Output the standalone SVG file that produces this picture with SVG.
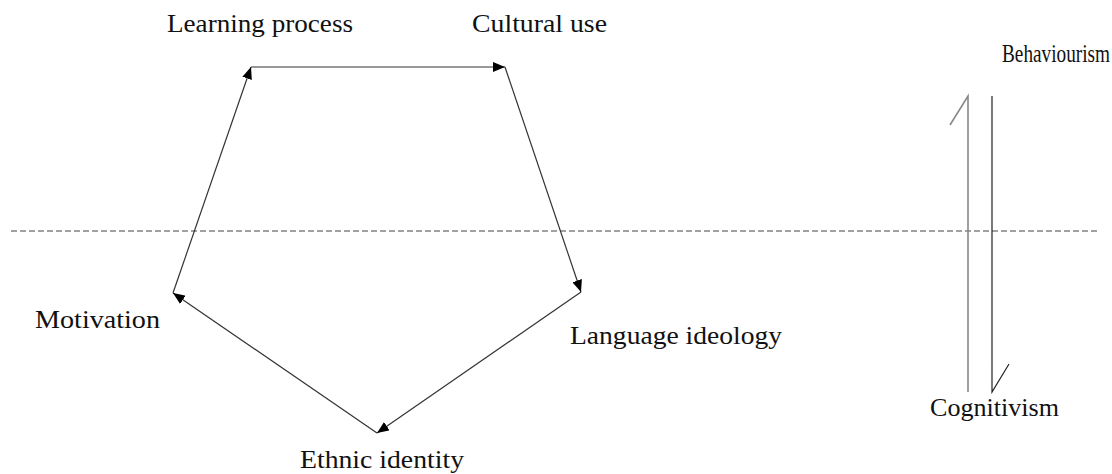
<svg xmlns="http://www.w3.org/2000/svg" width="1112" height="474" viewBox="0 0 1112 474">
  <style>
    .label { font-family: "Liberation Serif", "Times New Roman", serif; font-size: 26px; fill: #111; }
    .edge { stroke: #333; stroke-width: 1.2; fill: none; }
  </style>
  <defs>
    <marker id="head" viewBox="0 0 12 10" refX="12" refY="5" markerWidth="12" markerHeight="10" markerUnits="userSpaceOnUse" orient="auto">
      <path d="M0,0 L12,5 L0,10 Z" fill="#000"/>
    </marker>
  </defs>

  <rect width="1112" height="474" fill="#fff"/>

  <!-- divider -->
  <line x1="11" y1="231" x2="1100" y2="231" stroke="#444" stroke-width="1" stroke-dasharray="6 3"/>

  <!-- cycle connectors -->
  <g id="connectors">
    <line class="edge" x1="173" y1="293" x2="251" y2="67" marker-end="url(#head)"/>
    <line class="edge" x1="251" y1="67" x2="505" y2="67" marker-end="url(#head)"/>
    <line class="edge" x1="505" y1="67" x2="581" y2="292" marker-end="url(#head)"/>
    <line class="edge" x1="581" y1="292" x2="377" y2="433" marker-end="url(#head)"/>
    <line class="edge" x1="377" y1="433" x2="173" y2="293" marker-end="url(#head)"/>
    <!-- opposing half-arrows -->
    <path d="M968,392 L968,96 L950,125" stroke="#888" stroke-width="1.6" fill="none"/>
    <path d="M992,96 L992,392 L1009,364" stroke="#222" stroke-width="1.2" fill="none"/>
  </g>

  <g id="learning-process"><text class="label" x="167" y="32" textLength="186" lengthAdjust="spacingAndGlyphs">Learning process</text></g>
  <g id="cultural-use"><text class="label" x="472" y="32" textLength="135" lengthAdjust="spacingAndGlyphs">Cultural use</text></g>
  <g id="language-ideology"><text class="label" x="570" y="344" textLength="212" lengthAdjust="spacingAndGlyphs">Language ideology</text></g>
  <g id="ethnic-identity"><text class="label" x="300" y="468" textLength="164" lengthAdjust="spacingAndGlyphs">Ethnic identity</text></g>
  <g id="motivation"><text class="label" x="35" y="328" textLength="125" lengthAdjust="spacingAndGlyphs">Motivation</text></g>
  <g id="behaviourism"><text class="label" x="1002" y="62" textLength="108" lengthAdjust="spacingAndGlyphs">Behaviourism</text></g>
  <g id="cognitivism"><text class="label" x="930" y="416" textLength="129" lengthAdjust="spacingAndGlyphs">Cognitivism</text></g>
</svg>
